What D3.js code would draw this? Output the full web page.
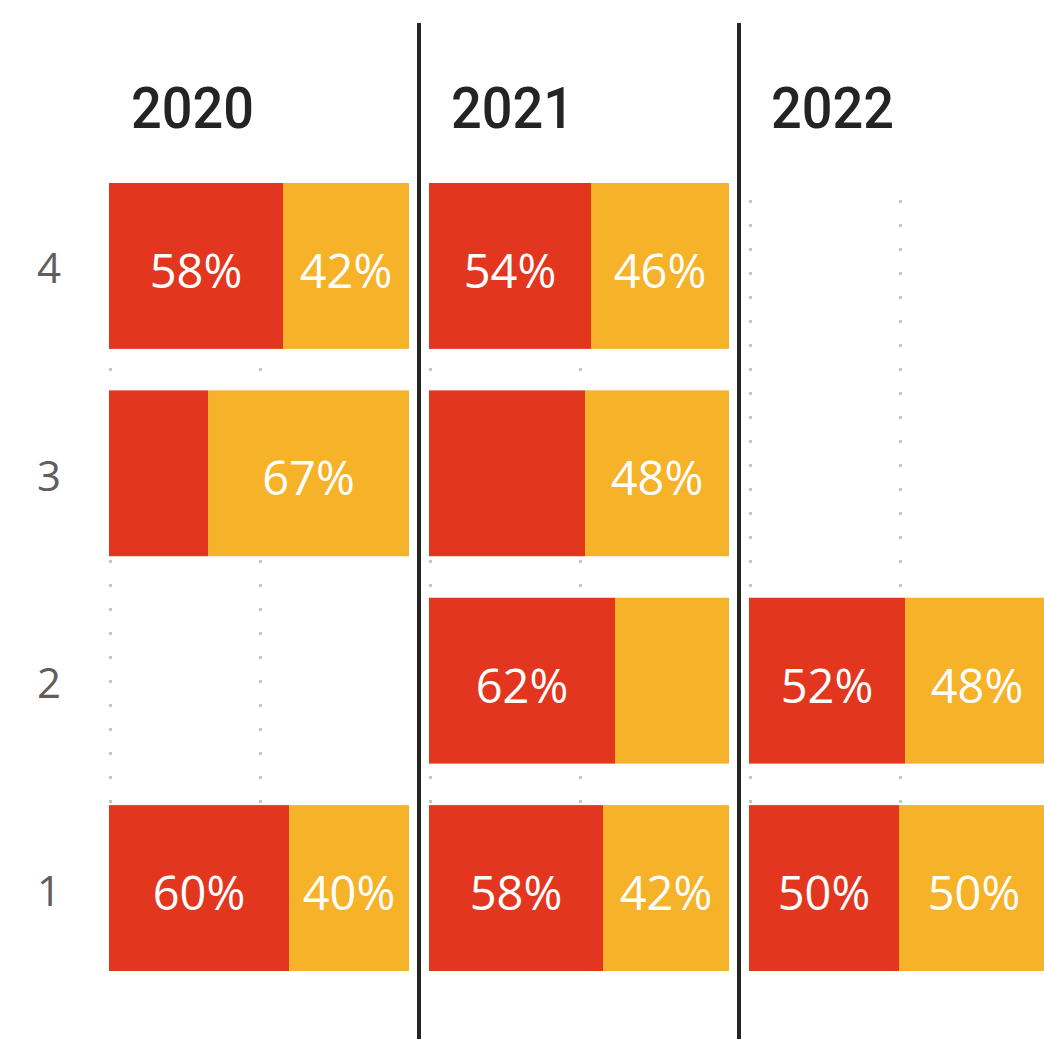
<!DOCTYPE html>
<html>
<head>
<meta charset="utf-8">
<script src="https://cdn.jsdelivr.net/npm/d3@7"></script>
<style>
  html, body { margin: 0; padding: 0; background: #fff; overflow: hidden; }
  svg { display: block; }
</style>
</head>
<body>
<svg id="chart" width="1044" height="1039"></svg>
<script>
// ---- data ----
const years = ["2020", "2021", "2022"];
const quarters = ["4", "3", "2", "1"];
// share of first (red) series per year per quarter (null = no bar)
const redShare = {
  "2020": [58, 33, null, 60],
  "2021": [54, 52, 62, 58],
  "2022": [null, null, 52, 50]
};
const orangeShare = {
  "2020": [42, 67, null, 40],
  "2021": [46, 48, 38, 42],
  "2022": [null, null, 48, 50]
};
// which data labels are displayed in the original
const redLabelShown = {
  "2020": [true, false, false, true],
  "2021": [true, false, true, true],
  "2022": [false, false, true, true]
};
const orangeLabelShown = {
  "2020": [true, true, false, true],
  "2021": [true, true, false, true],
  "2022": [false, false, true, true]
};
const gridTicks = [0, 50];
const colors = { red: "#E3361F", orange: "#F6B228" };

// ---- layout ----
const svg = d3.select("#chart");
const panelX = d3.scaleBand().domain(years).range([109, 109 + 3 * 320 - 20]).paddingInner(20 / 320);
const y = d3.scaleBand().domain(quarters).range([183, 971]).paddingInner(0.2);

// row labels
svg.append("g").selectAll("text").data(quarters).join("text")
  .attr("x", 49)
  .attr("y", d => y(d) + y.bandwidth() / 2 + 1)
  .attr("text-anchor", "middle")
  .attr("dominant-baseline", "central")
  .attr("font-family", "'Open Sans', 'Noto Sans', sans-serif")
  .attr("font-size", 42)
  .attr("fill", "#605E5C")
  .text(d => d);

years.forEach(yr => {
  const x0 = panelX(yr);
  const x = d3.scaleLinear().domain([0, 100]).range([x0, x0 + panelX.bandwidth()]);
  const g = svg.append("g");

  // title
  g.append("text")
    .attr("x", x0 + 22)
    .attr("y", 128)
    .attr("font-family", "Roboto, 'Open Sans', sans-serif")
    .attr("font-weight", 500)
    .attr("font-size", 58)
    .attr("textLength", 123)
    .attr("lengthAdjust", "spacingAndGlyphs")
    .attr("fill", "#252423")
    .text(yr);

  // gridlines
  g.append("g").selectAll("line").data(gridTicks).join("line")
    .attr("x1", d => x(d) + 1.5).attr("x2", d => x(d) + 1.5)
    .attr("y1", 200).attr("y2", 971)
    .attr("stroke", "#C8C6C4")
    .attr("stroke-width", 3)
    .attr("stroke-dasharray", "3,21");

  const rows = quarters.map((q, i) => ({
    q, r: redShare[yr][i], o: orangeShare[yr][i],
    rl: redLabelShown[yr][i], ol: orangeLabelShown[yr][i]
  })).filter(d => d.r !== null);

  // red bars
  g.append("g").selectAll("rect").data(rows).join("rect")
    .attr("x", x(0))
    .attr("y", d => y(d.q))
    .attr("width", d => x(d.r) - x(0))
    .attr("height", y.bandwidth())
    .attr("fill", colors.red);
  // orange bars
  g.append("g").selectAll("rect").data(rows).join("rect")
    .attr("x", d => x(d.r))
    .attr("y", d => y(d.q))
    .attr("width", d => x(d.r + d.o) - x(d.r))
    .attr("height", y.bandwidth())
    .attr("fill", colors.orange);

  const lbl = (sel) => sel
    .attr("text-anchor", "middle")
    .attr("dominant-baseline", "central")
    .attr("font-family", "'Open Sans', 'Noto Sans', sans-serif")
    .attr("font-size", 47)
    .attr("fill", "#ffffff");

  g.append("g").selectAll("text").data(rows.filter(d => d.rl)).join("text")
    .call(lbl)
    .attr("x", d => (x(0) + x(d.r)) / 2)
    .attr("y", d => y(d.q) + y.bandwidth() / 2 + 4)
    .text(d => d.r + "%");
  g.append("g").selectAll("text").data(rows.filter(d => d.ol)).join("text")
    .call(lbl)
    .attr("x", d => (x(d.r) + x(d.r + d.o)) / 2)
    .attr("y", d => y(d.q) + y.bandwidth() / 2 + 4)
    .text(d => d.o + "%");
});

// separators between panels
svg.append("g").selectAll("line").data(years.slice(1)).join("line")
  .attr("x1", d => panelX(d) - 10).attr("x2", d => panelX(d) - 10)
  .attr("y1", 23).attr("y2", 1039)
  .attr("stroke", "#252423")
  .attr("stroke-width", 4);
</script>
</body>
</html>
